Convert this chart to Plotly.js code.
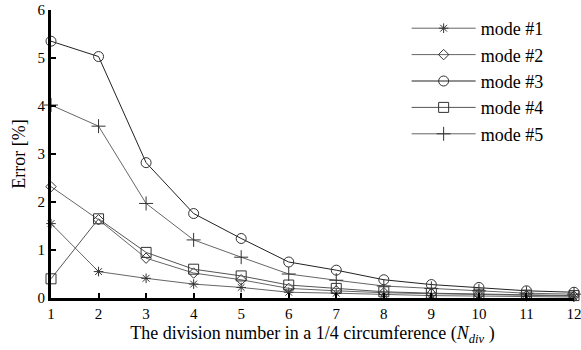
<!DOCTYPE html>
<html><head><meta charset="utf-8">
<script src="https://cdn.plot.ly/plotly-3.0.1.min.js"></script>
<style>html,body{margin:0;padding:0;background:#fff}#chart{width:581px;height:350px}</style>
</head><body><div id="chart"></div>
<script>
const nDiv = [1,2,3,4,5,6,7,8,9,10,11,12];
const mode1 = [1.55,0.55,0.41,0.29,0.22,0.12,0.10,0.07,0.05,0.04,0.03,0.02];
const mode2 = [2.32,1.63,0.83,0.52,0.38,0.20,0.15,0.11,0.09,0.07,0.05,0.04];
const mode3 = [5.35,5.03,2.82,1.76,1.24,0.75,0.58,0.38,0.28,0.22,0.15,0.12];
const mode4 = [0.40,1.65,0.95,0.60,0.46,0.27,0.20,0.13,0.10,0.08,0.06,0.05];
const mode5 = [4.02,3.58,1.97,1.21,0.85,0.50,0.37,0.25,0.20,0.15,0.10,0.08];
const names = ["mode #1","mode #2","mode #3","mode #4","mode #5"];
const symbols = ["asterisk-open","diamond-open","circle-open","square-open","cross-thin-open"];
const series = [mode1,mode2,mode3,mode4,mode5];
const lineColors = ["#666","#666","#222","#555","#666"];
const sizes = [8,8,10,10,10];

const traces = series.map((s,i)=>({
  x:nDiv, y:s, name:names[i], type:'scatter', mode:'lines+markers',
  line:{color:lineColors[i], width:1},
  marker:{symbol:symbols[i], size:sizes[i], color:'#333', line:{width:1,color:'#333'}},
  cliponaxis:false
}));

const font = {family:'"Liberation Serif", "Times New Roman", serif', color:'#000'};
const layout = {
  width:581, height:350,
  margin:{l:51, r:7, t:10, b:52},
  paper_bgcolor:'#fff', plot_bgcolor:'#fff',
  font:Object.assign({size:15}, font),
  showlegend:true,
  legend:{x:0.68, y:1.0, xanchor:'left', yanchor:'top', bgcolor:'rgba(0,0,0,0)',
          font:Object.assign({size:18}, font), tracegroupgap:0, itemwidth:64},
  xaxis:{range:[1,12], tickvals:nDiv, ticks:'inside', ticklen:5, tickwidth:2, tickcolor:'#000',
         ticklabeloverflow:'allow',
         showgrid:false, zeroline:false, showline:true, linewidth:3, linecolor:'#000',
         tickfont:Object.assign({size:15}, font),
         title:{text:'The division number in a 1/4 circumference (<i>N</i><sub><i>div</i></sub> )',
                font:Object.assign({size:18}, font), standoff:6}},
  yaxis:{range:[0,6], tickvals:[0,1,2,3,4,5,6], ticks:'inside', ticklen:5, tickwidth:2, tickcolor:'#000',
         showgrid:false, zeroline:false, showline:true, linewidth:3, linecolor:'#000',
         tickfont:Object.assign({size:15}, font),
         title:{text:'Error [%]', font:Object.assign({size:18}, font), standoff:8}}
};
Plotly.newPlot('chart', traces, layout, {displayModeBar:false, staticPlot:true});
</script></body></html>
